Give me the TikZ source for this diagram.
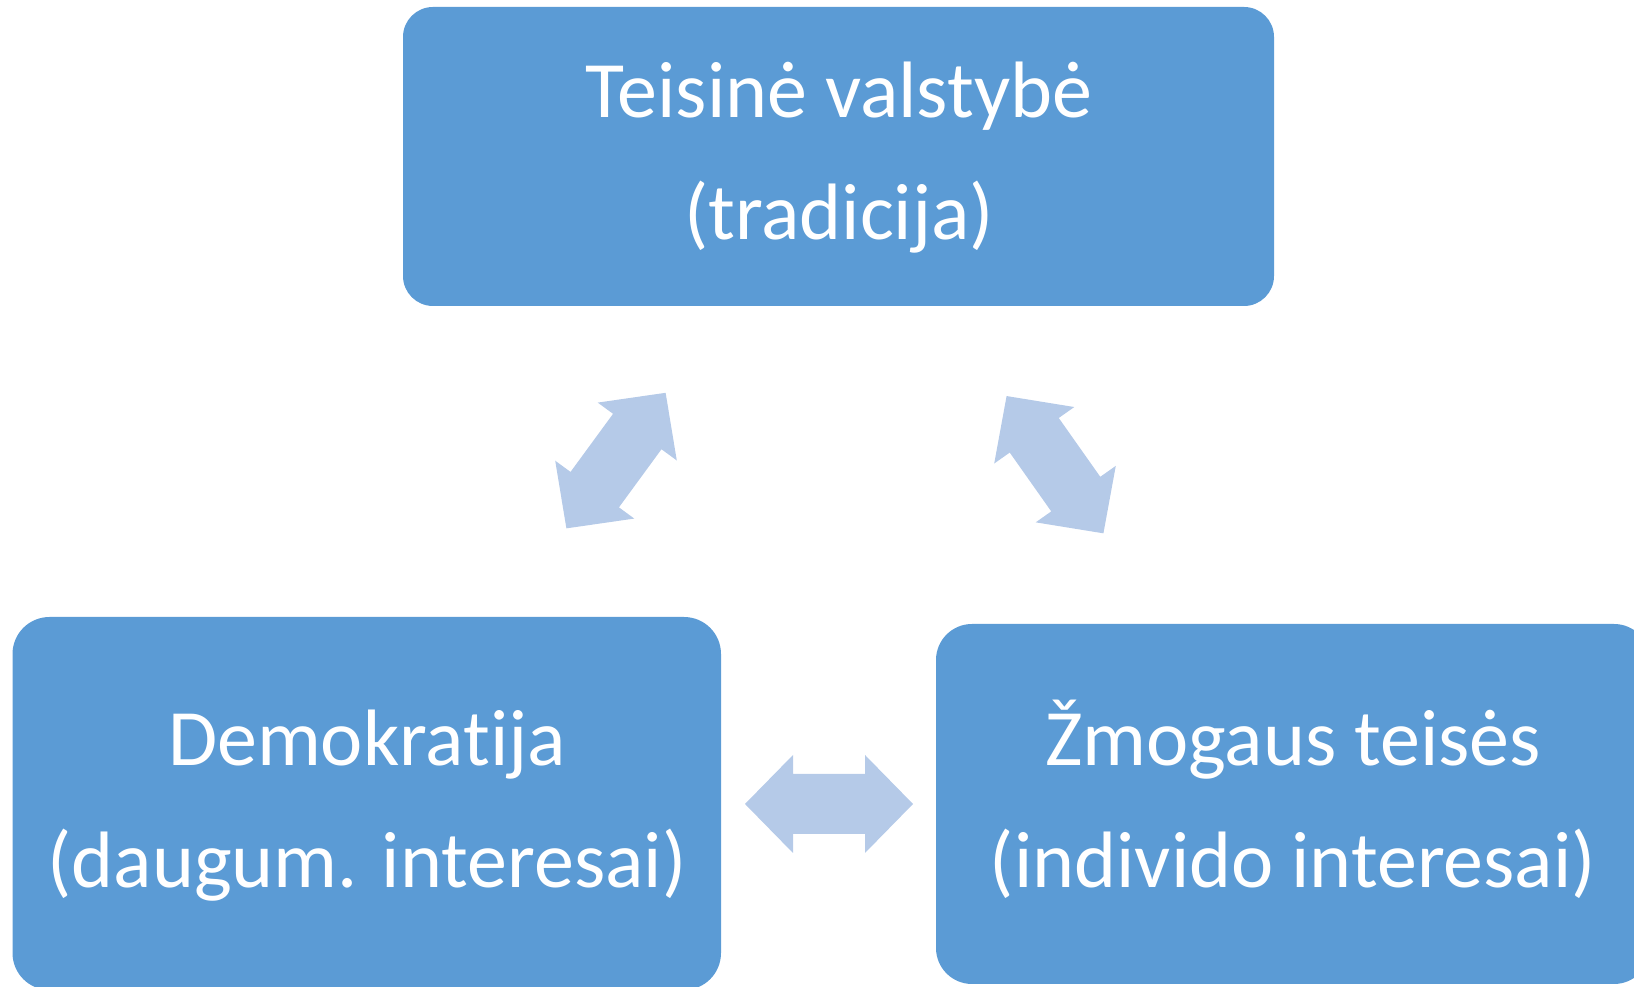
\documentclass[tikz,border=0pt]{standalone}
\usepackage{fontspec}
\setmainfont{Carlito}[Ligatures={NoCommon}]
\definecolor{boxblue}{HTML}{5B9BD5}
\definecolor{arrowblue}{HTML}{B5CAE8}
\begin{document}
\begin{tikzpicture}[x=1pt,y=1pt,
  box/.style={fill=boxblue, draw=none},
  label/.style={anchor=base, text=white, inner sep=0pt, font=\fontsize{80}{92}\selectfont},
  dblarrow/.pic={\fill[arrowblue] (-84,0)--(-36,49)--(-36,30)--(36,30)--(36,49)--(84,0)--(36,-49)--(36,-30)--(-36,-30)--(-36,-49)--cycle;}]
\useasboundingbox (0,0) rectangle (1634,987);
\clip (0,0) rectangle (1634,987);
% boxes
\fill[box, rounded corners=30pt] (403,681) rectangle (1274,980);
\coordinate (top) at (838.5,830.5);
\fill[box, rounded corners=37pt] (12.5,-3) rectangle (721,370);
\coordinate (left) at (367,183);
\fill[box, rounded corners=36pt] (936,3) rectangle (1650,363);
\coordinate (right) at (1293,183);
% texts
\node[label] (t1) at (839,869) {Teisinė valstybė};
\node[label] (t2) at (839,747) {(tradicija)};
\node[label] (l1) at (367,221) {Demokratija};
\node[label] (l2) at (367,99) {(daugum. interesai)};
\node[label] (r1) at (1293,221) {Žmogaus teisės};
\node[label] (r2) at (1293,99) {(individo interesai)};
% arrows
\pic[rotate=53.8] at (616,526.4) {dblarrow};
\pic[rotate=125.2] at (1055,522.3) {dblarrow};
\pic at (829,183) {dblarrow};
\end{tikzpicture}
\end{document}
